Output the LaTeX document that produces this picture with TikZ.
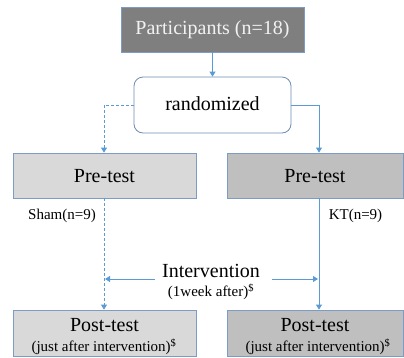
\documentclass[tikz,border=0pt]{standalone}
\usepackage{fontspec}
\setmainfont{Liberation Serif}
\usetikzlibrary{arrows.meta}
\definecolor{boxborder}{HTML}{7A9CC6}
\definecolor{lineblue}{HTML}{5B9BD5}
\definecolor{darkfill}{HTML}{7F7F7F}
\definecolor{lightfill}{HTML}{D9D9D9}
\definecolor{midfill}{HTML}{BFBFBF}
\tikzset{
  box/.style={draw=boxborder, line width=0.8pt, inner sep=0pt, rectangle},
  big/.style={font=\fontsize{20}{22}\selectfont, inner sep=0pt},
  small/.style={font=\fontsize{15}{17}\selectfont, inner sep=0pt},
  conn/.style={draw=lineblue, line width=0.8pt},
  tip/.style={-{Triangle[width=6pt,length=5pt]}},
  dashline/.style={dash pattern=on 3pt off 2pt},
}
\begin{document}
\begin{tikzpicture}[x=1pt,y=-1pt]
\useasboundingbox (0,0) rectangle (404,357);
% boxes
\node[box, fill=darkfill, minimum width=183pt, minimum height=45pt] (part) at (212.5,29.5) {};
\node[big, text=white!95!black] (partt) at (212.5,30) {Participants (n=18)};
\node[box, draw=boxborder!90!black, rounded corners=9pt, fill=white, minimum width=157pt, minimum height=56pt] (rand) at (212.5,105) {};
\node[big] (randt) at (212.5,104) {randomized};
\node[box, fill=lightfill, minimum width=183pt, minimum height=45pt] (preL) at (104.5,175.5) {};
\node[big] (preLt) at (104.5,176) {Pre-test};
\node[box, fill=midfill, minimum width=176pt, minimum height=45pt] (preR) at (315,175.5) {};
\node[big] (preRt) at (315,176) {Pre-test};
\node[box, fill=lightfill, minimum width=183pt, minimum height=46pt] (postL) at (104.5,333) {};
\node[big] (postLt) at (104.5,325) {Post-test};
\node[small] (postLs) at (104,347) {(just after intervention)\textsuperscript{\$}};
\node[box, fill=midfill, minimum width=176pt, minimum height=46pt] (postR) at (315,333) {};
\node[big] (postRt) at (315,325) {Post-test};
\node[small] (postRs) at (318,347) {(just after intervention)\textsuperscript{\$}};
% labels
\node[small] (sham) at (62,216) {Sham(n=9)};
\node[small] (kt) at (355.5,216) {KT(n=9)};
\node[big] (interv) at (211,271) {Intervention};
\node[small] (week) at (211,292) {(1week after)\textsuperscript{\$}};
% coordinates
\coordinate (lc) at (104,105);
\coordinate (rc) at (319,105);
\coordinate (ia) at (155,279);
\coordinate (ib) at (272,279);
\coordinate (iL) at (105,279);
\coordinate (iR) at (318,279);
% connectors
\draw[conn, tip] (part.south) -- (rand.north);
\draw[conn, tip, dashline] (rand.west) -- (lc) -- (lc |- preL.north);
\draw[conn, tip] (rand.east) -- (rc) -- (rc |- preR.north);
\draw[conn, tip, dashline] (lc |- preL.south) -- (lc |- postL.north);
\draw[conn, tip] (rc |- preR.south) -- (rc |- postR.north);
\draw[conn, tip] (ia) -- (iL);
\draw[conn, tip] (ib) -- (iR);
\end{tikzpicture}
\end{document}
